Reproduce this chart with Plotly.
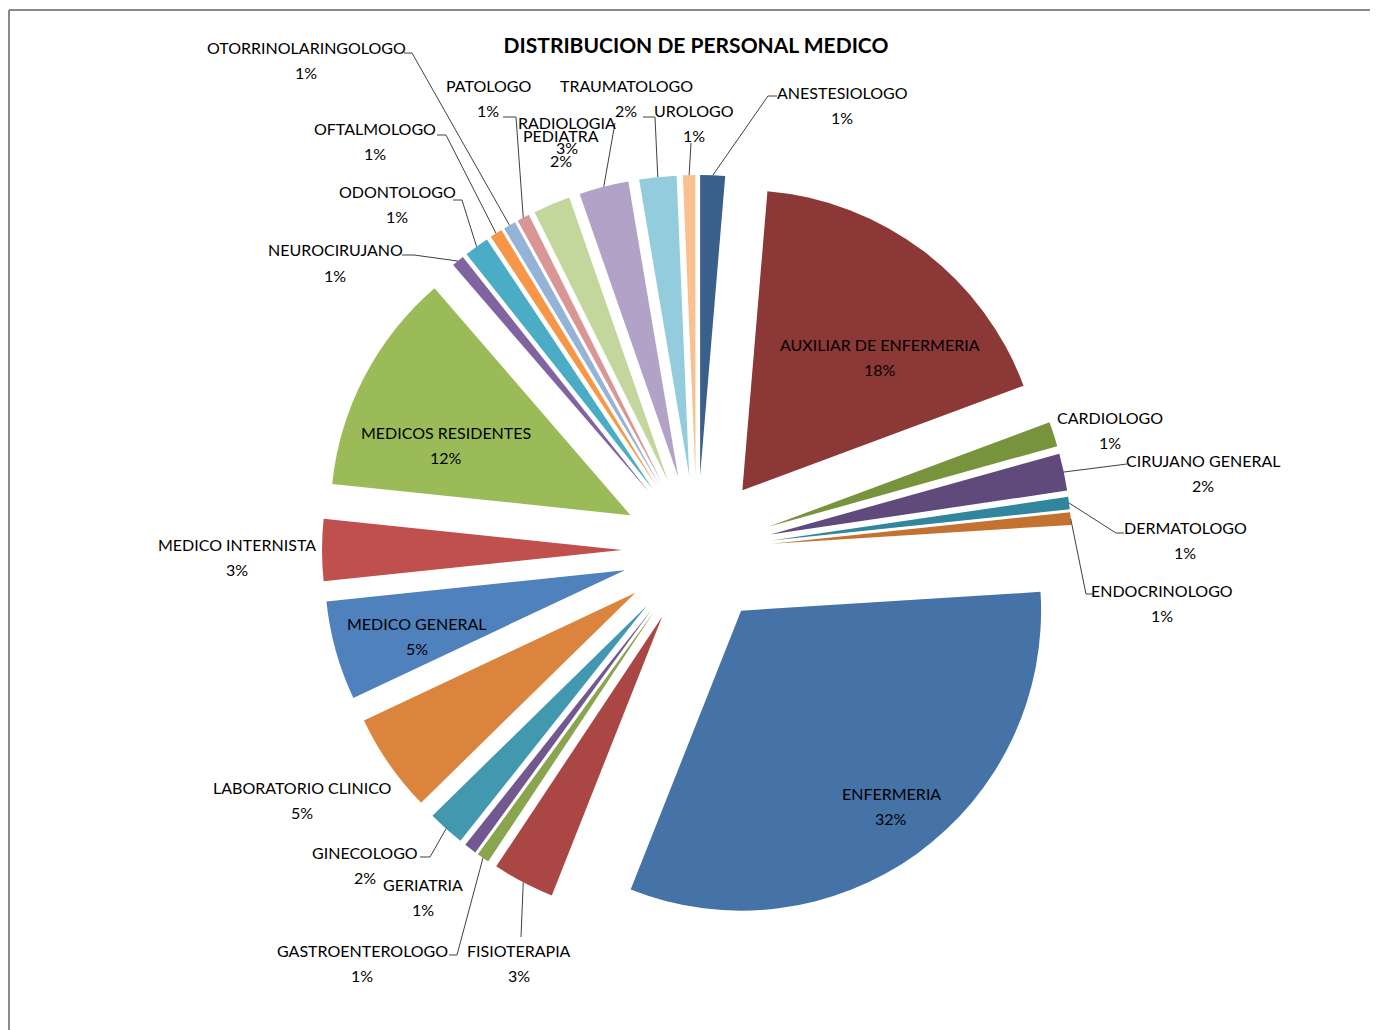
import math
import plotly.graph_objects as go

# ---------------- data ----------------
categories = [
    "ANESTESIOLOGO", "AUXILIAR DE ENFERMERIA", "CARDIOLOGO", "CIRUJANO GENERAL",
    "DERMATOLOGO", "ENDOCRINOLOGO", "ENFERMERIA", "FISIOTERAPIA",
    "GASTROENTEROLOGO", "GERIATRIA", "GINECOLOGO", "LABORATORIO CLINICO",
    "MEDICO GENERAL", "MEDICO INTERNISTA", "MEDICOS RESIDENTES", "NEUROCIRUJANO",
    "ODONTOLOGO", "OFTALMOLOGO", "OTORRINOLARINGOLOGO", "PATOLOGO",
    "PEDIATRA", "RADIOLOGIA", "TRAUMATOLOGO", "UROLOGO",
]
counts = [2, 27, 2, 3, 1, 1, 48, 5, 1, 1, 3, 8, 8, 5, 18, 1, 2, 1, 1, 1, 3, 4, 3, 1]

colors = [
    "#3A5F8B", "#8C3836", "#77933C", "#5F4A7B", "#31859C", "#C3722F",
    "#4572A7", "#AA4643", "#89A54E", "#71588F", "#4198AF", "#DB843D",
    "#4F81BD", "#C0504D", "#9BBB59", "#8064A2", "#4BACC6", "#F79646",
    "#95B3D7", "#D99694", "#C3D69B", "#B3A2C7", "#93CDDD", "#FAC090",
]

title_text = "DISTRIBUCION DE PERSONAL MEDICO"

# ---------------- layout / style ----------------
W, H = 1378, 1030
OFF = 8                    # page body margin (px) that shifts the figure
CX, CY = 697, 550          # pie centre (page px)
R = 300                    # pie radius (px)
PULL = 0.25                # explosion, fraction of radius
HALF = R * (1 + PULL)
FONT = "Lato"

# label placement (page px, centre of the name line); percentage line 25px below
label_pos = {
    "ANESTESIOLOGO": (842, 92),
    "AUXILIAR DE ENFERMERIA": (880, 344),
    "CARDIOLOGO": (1110, 417),
    "CIRUJANO GENERAL": (1203, 460),
    "DERMATOLOGO": (1185, 527),
    "ENDOCRINOLOGO": (1162, 590),
    "ENFERMERIA": (891, 793),
    "FISIOTERAPIA": (519, 950),
    "GASTROENTEROLOGO": (362, 950),
    "GERIATRIA": (423, 884),
    "GINECOLOGO": (365, 852),
    "LABORATORIO CLINICO": (302, 787),
    "MEDICO GENERAL": (417, 623),
    "MEDICO INTERNISTA": (237, 544),
    "MEDICOS RESIDENTES": (446, 432),
    "NEUROCIRUJANO": (335, 250),
    "ODONTOLOGO": (397, 191),
    "OFTALMOLOGO": (375, 129),
    "OTORRINOLARINGOLOGO": (306, 47),
    "PATOLOGO": (488, 86),
    "PEDIATRA": (561, 135),
    "RADIOLOGIA": (567, 122),
    "TRAUMATOLOGO": (626, 86),
    "UROLOGO": (694, 110),
}
# leader line start / elbow points (page px); the end is computed on the slice's outer arc
leader_pts = {
    "ANESTESIOLOGO": [(777, 96), (768, 96)],
    "CIRUJANO GENERAL": [(1127, 464)],
    "DERMATOLOGO": [(1124, 533), (1116, 533)],
    "ENDOCRINOLOGO": [(1094, 594), (1086, 594)],
    "FISIOTERAPIA": [(521, 937)],
    "GASTROENTEROLOGO": [(449, 955), (457, 955)],
    "GINECOLOGO": [(420, 857), (430, 857)],
    "NEUROCIRUJANO": [(402, 255), (414, 255)],
    "ODONTOLOGO": [(453, 200), (462, 200)],
    "OFTALMOLOGO": [(437, 135), (446, 135)],
    "OTORRINOLARINGOLOGO": [(404, 53), (412, 53)],
    "PATOLOGO": [(503, 117), (516, 117)],
    "RADIOLOGIA": [(615, 123)],
    "TRAUMATOLOGO": [(643, 117), (655, 117)],
    "UROLOGO": [(691, 143)],
}


def px2paper(x, y):
    return (x - OFF) / W, 1 - (y - OFF) / H


total = sum(counts)
pct_text = [f"{round(100 * c / total)}%" for c in counts]

fig = go.Figure(
    go.Pie(
        labels=categories,
        values=counts,
        sort=False,
        direction="clockwise",
        rotation=0,
        pull=PULL,
        marker=dict(colors=colors, line=dict(width=0)),
        textinfo="none",
        hoverinfo="label+value+percent",
        showlegend=False,
        domain=dict(
            x=[(CX - OFF - HALF) / W, (CX - OFF + HALF) / W],
            y=[1 - (CY - OFF + HALF) / H, 1 - (CY - OFF - HALF) / H],
        ),
    )
)

# outer-arc midpoint of every slice, derived from the data
cum = 0
arc_mid = {}
for name, c in zip(categories, counts):
    a = math.radians(360 * (cum + c / 2) / total)
    arc_mid[name] = (CX + HALF * math.sin(a), CY - HALF * math.cos(a))
    cum += c

annotations = []
for name, p in zip(categories, pct_text):
    x, y = label_pos[name]
    for txt, yy in ((name, y), (p, y + 25)):
        ax, ay = px2paper(x, yy)
        annotations.append(dict(
            x=ax, y=ay, xref="paper", yref="paper", text=txt, showarrow=False,
            xanchor="center", yanchor="middle",
            font=dict(family=FONT, size=16, color="#000000"),
        ))

shapes = []
for name, pts in leader_pts.items():
    allpts = list(pts) + [arc_mid[name]]
    path = ""
    for k, (x, y) in enumerate(allpts):
        px, py = px2paper(x, y)
        path += ("M" if k == 0 else " L") + f" {px:.5f},{py:.5f}"
    shapes.append(dict(type="path", path=path, xref="paper", yref="paper",
                       line=dict(color="#404040", width=1)))

# chart frame (grey border visible on the left and top)
bx0, by0 = px2paper(9, 10)
shapes.append(dict(type="line", xref="paper", yref="paper",
                   x0=bx0, x1=bx0, y0=by0, y1=-0.02,
                   line=dict(color="#8a8a8a", width=2)))
shapes.append(dict(type="line", xref="paper", yref="paper",
                   x0=bx0, x1=1.02, y0=by0, y1=by0,
                   line=dict(color="#8a8a8a", width=2)))

tx, ty = px2paper(696, 46)
fig.update_layout(
    width=W, height=H,
    margin=dict(l=0, r=0, t=0, b=0),
    paper_bgcolor="white", plot_bgcolor="white",
    title=dict(text=f"<b>{title_text}</b>", x=tx, y=ty, xanchor="center",
               yanchor="middle", xref="paper", yref="paper",
               font=dict(family=FONT, size=21, color="#000000")),
    annotations=annotations,
    shapes=shapes,
)

fig.write_html("out.html")
